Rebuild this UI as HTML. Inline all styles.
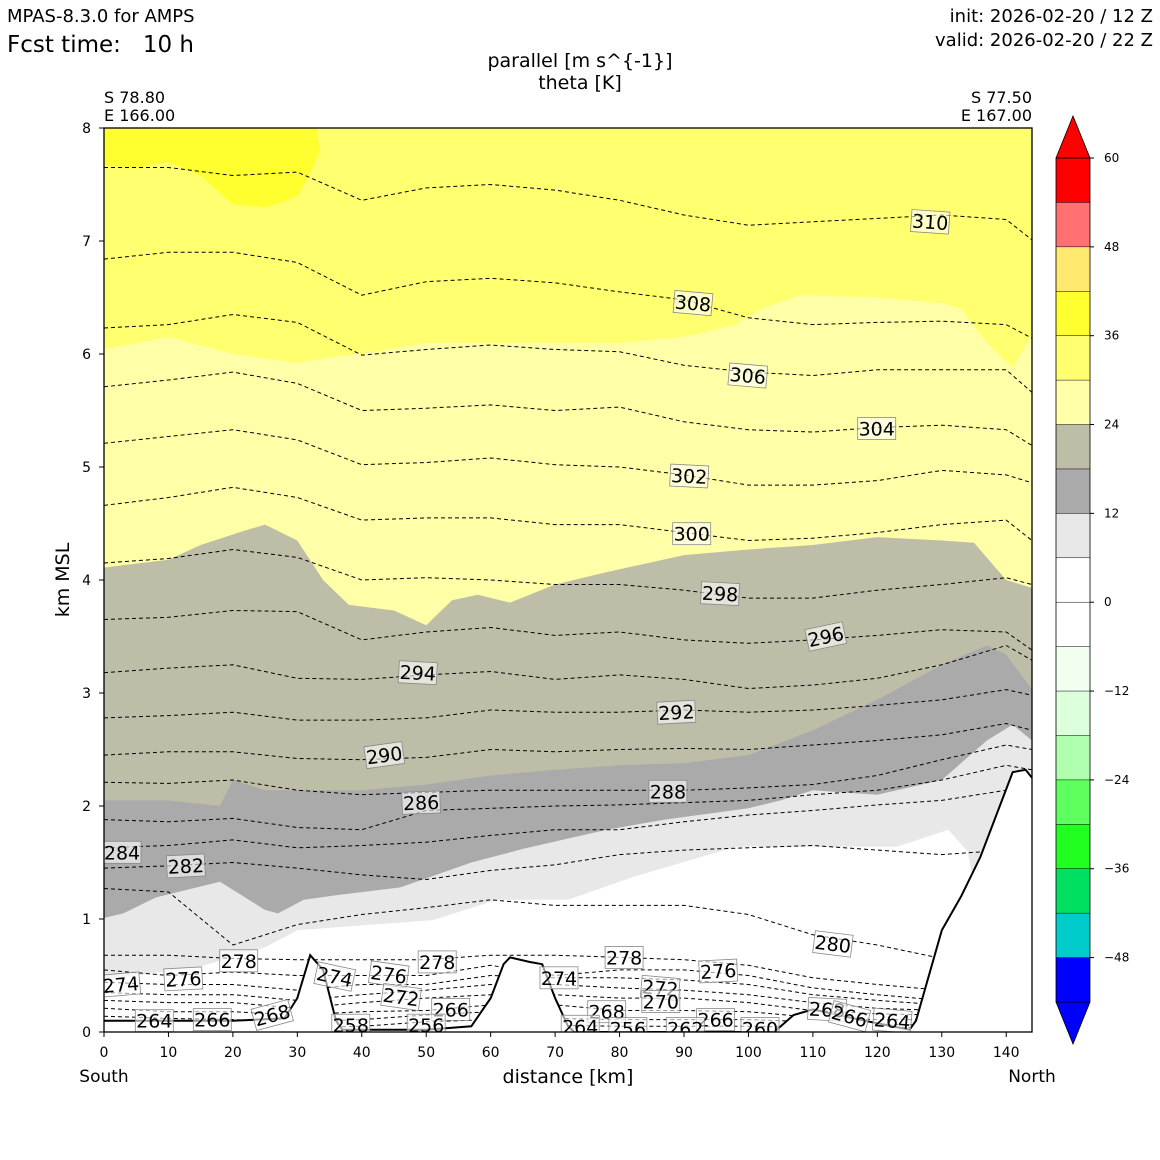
<!DOCTYPE html>
<html><head><meta charset="utf-8"><style>
html,body{margin:0;padding:0;background:#fff}
svg{display:block;font-family:"DejaVu Sans","Liberation Sans",sans-serif}
.pre{white-space:pre}
</style></head><body>
<svg id="chart" width="1160" height="1160" viewBox="0 0 1160 1160">
<g>
<text x="7" y="22" font-size="18">MPAS-8.3.0 for AMPS</text>
<text x="7" y="52" font-size="23" class="pre" xml:space="preserve">Fcst time:   10 h</text>
<text x="1153" y="22" font-size="18" text-anchor="end">init: 2026-02-20 / 12 Z</text>
<text x="1153" y="46" font-size="18" text-anchor="end">valid: 2026-02-20 / 22 Z</text>
<text x="580" y="67" font-size="19" text-anchor="middle">parallel [m s^{-1}]</text>
<text x="580" y="89" font-size="19" text-anchor="middle">theta [K]</text>
<text x="104" y="103" font-size="16">S 78.80</text>
<text x="104" y="121" font-size="16">E 166.00</text>
<text x="1032" y="103" font-size="16" text-anchor="end">S 77.50</text>
<text x="1032" y="121" font-size="16" text-anchor="end">E 167.00</text>
</g>
<defs><clipPath id="pc"><rect x="104" y="128" width="928" height="904"/></clipPath></defs>
<g id="plot" clip-path="url(#pc)"></g>
<g id="axes"></g>
<g id="cbar"></g>
</svg>
<script>
const NS="http://www.w3.org/2000/svg";
// ---- data ----
const thetaX=[0,10,20,30,40,50,60,70,80,90,100,110,120,130,140,144];
const theta310=[7.65,7.65,7.58,7.61,7.36,7.47,7.50,7.45,7.36,7.23,7.14,7.17,7.20,7.23,7.19,7.01];
const theta308=[6.84,6.90,6.90,6.81,6.52,6.64,6.67,6.63,6.55,6.48,6.32,6.26,6.28,6.29,6.26,6.14];
const theta306=[6.23,6.26,6.35,6.28,5.99,6.04,6.08,6.04,6.02,5.90,5.84,5.81,5.86,5.86,5.86,5.66];
const theta304=[5.71,5.77,5.84,5.74,5.50,5.52,5.55,5.50,5.53,5.40,5.33,5.31,5.35,5.37,5.33,5.19];
const theta302=[5.21,5.27,5.33,5.24,5.02,5.04,5.08,5.02,5.00,4.93,4.84,4.84,4.88,4.97,4.93,4.86];
const theta300=[4.66,4.73,4.82,4.73,4.53,4.55,4.55,4.49,4.49,4.42,4.35,4.37,4.42,4.49,4.53,4.35];
const theta298=[4.15,4.19,4.27,4.20,4.00,4.02,4.00,3.96,3.96,3.91,3.84,3.84,3.91,3.96,4.02,3.96];
const theta296=[3.65,3.67,3.73,3.72,3.47,3.54,3.58,3.51,3.54,3.47,3.44,3.47,3.51,3.56,3.54,3.38];
const theta294=[3.18,3.22,3.25,3.13,3.12,3.16,3.19,3.12,3.16,3.12,3.04,3.07,3.13,3.25,3.42,3.29];
const theta292=[2.78,2.80,2.83,2.76,2.76,2.78,2.85,2.83,2.83,2.85,2.83,2.85,2.89,2.94,3.03,2.98];
const theta290=[2.45,2.48,2.48,2.42,2.41,2.43,2.50,2.48,2.50,2.51,2.50,2.54,2.58,2.63,2.73,2.67];
const theta288=[2.21,2.20,2.23,2.14,2.10,2.12,2.14,2.14,2.14,2.14,2.16,2.19,2.27,2.41,2.54,2.50];
const theta286=[1.88,1.86,1.89,1.81,1.79,1.96,1.98,2.00,2.01,2.03,2.05,2.10,2.14,2.23,2.36,2.32];
const theta284=[1.63,1.65,1.70,1.63,1.65,1.68,1.74,1.79,1.79,1.86,1.92,1.96,2.01,2.05,2.14,2.10];
const theta282=[1.45,1.47,1.50,1.45,1.39,1.35,1.43,1.48,1.57,1.61,1.63,1.65,1.61,1.57,1.61,1.61];
const theta280=[1.27,1.24,0.77,0.95,1.04,1.10,1.17,1.12,1.12,1.12,1.04,0.86,0.77,0.65,0.73,0.73];
const theta278=[0.68,0.68,0.65,0.64,0.64,0.64,0.68,0.68,0.66,0.64,0.59,0.48,0.42,0.37,0.37,0.37];
const theta276=[0.55,0.50,0.53,0.50,0.50,0.50,0.59,0.50,0.55,0.55,0.50,0.39,0.33,0.28,0.28,0.28];
const theta274=[0.44,0.42,0.42,0.37,0.42,0.42,0.50,0.48,0.48,0.46,0.42,0.33,0.28,0.24,0.24,0.24];
const theta272=[0.35,0.33,0.33,0.28,0.33,0.37,0.42,0.42,0.39,0.37,0.33,0.26,0.21,0.19,0.19,0.19];
const theta270=[0.28,0.26,0.26,0.21,0.26,0.30,0.33,0.33,0.30,0.30,0.26,0.19,0.16,0.15,0.15,0.15];
const theta268=[0.21,0.18,0.18,0.15,0.18,0.19,0.24,0.24,0.19,0.19,0.18,0.13,0.11,0.11,0.11,0.11];
const theta266=[0.14,0.12,0.11,0.09,0.11,0.15,0.18,0.12,0.11,0.11,0.11,0.09,0.07,0.06,0.06,0.06];
const theta264=[0.09,0.09,0.06,0.04,0.05,0.09,0.11,0.06,0.05,0.05,0.05,0.04,0.04,0.04,0.04,0.04];
const thetaLines=[theta310,theta308,theta306,theta304,theta302,theta300,theta298,theta296,theta294,theta292,theta290,theta288,theta286,theta284,theta282,theta280,theta278,theta276,theta274,theta272,theta270,theta268,theta266,theta264];

const blobX=[0,5,10,15,20,25,28,30,32,33.5,33];
const blobH=[7.67,7.65,7.7,7.58,7.32,7.3,7.35,7.4,7.6,7.8,8];
const b1X=[0,10,20,30,35,40,50,60,70,80,90,98,102,108,120,130,133,137,141,144];
const b1H=[6.04,6.15,6.0,5.92,5.97,6.0,6.1,6.1,6.1,6.1,6.15,6.26,6.4,6.52,6.5,6.45,6.4,6.1,5.88,6.17];
const b2X=[0,10,15,22,25,30,34,38,45,50,54,58,63,70,78,90,100,110,120,130,135,140,144];
const b2H=[4.11,4.18,4.31,4.44,4.49,4.35,4.0,3.78,3.73,3.6,3.82,3.87,3.8,3.96,4.07,4.22,4.27,4.31,4.38,4.35,4.33,4.0,3.93];
const b3X=[0,10,18,20,25,33,40,50,60,70,80,90,100,110,120,130,137,140,144];
const b3H=[2.05,2.05,2.0,2.23,2.14,2.14,2.14,2.19,2.27,2.32,2.36,2.38,2.45,2.67,2.94,3.25,3.42,3.34,3.03];
const b4X=[0,3,8,18,25,27,31,36,46,57,65,78,87,100,105,110,120,130,137,141,144];
const b4H=[1.01,1.05,1.19,1.33,1.08,1.05,1.17,1.21,1.28,1.5,1.62,1.79,1.88,1.98,2.05,2.14,2.1,2.23,2.58,2.72,2.58];
const b5X=[0,15,25,30,51,61,72,82,98,123,131,134,136,144];
const b5H=[0.46,0.58,0.75,0.9,0.99,1.17,1.17,1.37,1.64,1.64,1.79,1.6,1.0,1.0];
const terrX=[0,20,28,30,32,34,36,37,50,57,60,62,63,66,68,70,72,73,104,107,110,118,125,126,130,133,136,139,141,143,144];
const terrH=[0.1,0.1,0.12,0.3,0.68,0.55,0.1,0.02,0.02,0.05,0.3,0.6,0.66,0.62,0.6,0.3,0.05,0,0,0.15,0.2,0.1,0.02,0.1,0.9,1.2,1.55,2.0,2.3,2.32,2.25];

const labelText=["310","308","306","304","302","300","298","296","294","292","290","288","286","284","282","280","278","278","278","276","276","276","274","274","274","272","272","270","268","268","268","266","266","266","266","264","264","264","258","256","256","262","260"];
const labelKm=[128.2,91.4,99.9,119.9,90.8,91.2,95.6,112.0,48.7,88.8,43.5,87.5,49.2,2.8,12.7,113.1,20.9,51.7,80.7,12.3,44.2,95.3,2.6,35.8,70.6,46.1,86.3,86.4,26.1,78.0,112.2,53.8,16.8,94.9,115.7,7.8,73.9,122.3,38.3,50.0,81.3,90.2,101.8];
const labelH=[7.17,6.45,5.81,5.34,4.92,4.41,3.88,3.5,3.18,2.83,2.45,2.13,2.03,1.59,1.47,0.78,0.63,0.62,0.66,0.47,0.51,0.54,0.42,0.49,0.48,0.31,0.39,0.27,0.15,0.18,0.2,0.2,0.11,0.11,0.14,0.1,0.05,0.1,0.06,0.06,0.03,0.03,0.03];
const labelRot=[4,5,5,0,3,0,3,-12,3,-3,-8,0,-2,0,-3,7,0,0,0,-3,8,-3,-5,12,0,8,5,0,-15,0,3,0,0,0,15,0,0,5,0,0,0,0,0];

const yTicks=[0,1,2,3,4,5,6,7,8];
const xTicks=[0,10,20,30,40,50,60,70,80,90,100,110,120,130,140];
const cbLevels=[60,54,48,42,36,30,24,18,12,6,0,-6,-12,-18,-24,-30,-36,-42,-48,-54];
const cbColors=["#ff0000","#ff7070","#ffe870","#ffff30","#ffff70","#ffffa8","#bebea8","#aaaaaa","#e8e8e8","#ffffff","#ffffff","#f0fff0","#dcffdc","#b0ffb0","#60ff60","#20ff20","#00e060","#00cccc","#0000ff"];
const cbTickVals=[60,48,36,24,12,0,-12,-24,-36,-48];

// ---- scales ----
const X=k=>104+k*928/144;
const Y=h=>1032-h*113;
const CY=v=>158+(60-v)*844/114;
function el(t,a,p){const e=document.createElementNS(NS,t);for(const k in a)e.setAttribute(k,a[k]);p.appendChild(e);return e;}
const plot=document.getElementById('plot'),axes=document.getElementById('axes'),cb=document.getElementById('cbar');

let r=el('rect',{x:104,y:128,width:928,height:904,fill:"#ffff70"},plot);


function below(xs,hs,fill,name){
  let d='M'+X(xs[0])+','+Y(0);
  xs.forEach((x,i)=>d+=' L'+X(x).toFixed(1)+','+Y(hs[i]).toFixed(1));
  d+=' L'+X(xs[xs.length-1])+','+Y(0)+'Z';
  const p=el('path',{d:d,fill:fill},plot);
  
  
}
{let d='M'+X(0)+','+Y(8);blobX.forEach((x,i)=>d+=' L'+X(x).toFixed(1)+','+Y(blobH[i]).toFixed(1));d+='Z';
const p=el('path',{d:d,fill:"#ffff30"},plot);

}
below(b1X,b1H,"#ffffa8","wind-24-30-region");
below(b2X,b2H,"#bebea8","wind-18-24-region");
below(b3X,b3H,"#aaaaaa","wind-12-18-region");
below(b4X,b4H,"#e8e8e8","wind-6-12-region");
below(b5X,b5H,"#ffffff","wind-0-6-region");
thetaLines.forEach((arr,i)=>{
  const pts=thetaX.map((x,j)=>X(x).toFixed(1)+','+Y(arr[j]).toFixed(1)).join(' ');
  const l=el('polyline',{points:pts,fill:'none',stroke:'#000','stroke-width':1,'stroke-dasharray':'4,3'},plot);
  
  
});
below(terrX,terrH,"#ffffff","terrain-mask");
{const pts=terrX.map((x,i)=>X(x).toFixed(1)+','+Y(terrH[i]).toFixed(1)).join(' ');
const t=el('polyline',{points:pts,fill:'none',stroke:'#000','stroke-width':2},plot);

}
labelText.forEach((s,i)=>{
  const cx=X(labelKm[i]),cy=Y(labelH[i]);
  const g=el('g',{transform:`translate(${cx.toFixed(1)},${cy.toFixed(1)}) rotate(${labelRot[i]})`},plot);
  
  
  el('rect',{x:-19,y:-11,width:38,height:22,fill:'rgba(255,255,255,0.6)',stroke:'#888','stroke-width':0.8},g);
  const t=el('text',{x:0,y:7,'font-size':19,'text-anchor':'middle'},g);t.textContent=s;
});
el('rect',{x:104,y:128,width:928,height:904,fill:'none',stroke:'#000','stroke-width':1.3},axes);
yTicks.forEach(v=>{
  el('line',{x1:99,x2:104,y1:Y(v),y2:Y(v),stroke:'#000'},axes);
  const t=el('text',{x:91,y:Y(v)+5,'font-size':14,'text-anchor':'end'},axes);
  
  
  t.textContent=v;
});
xTicks.forEach(v=>{
  el('line',{x1:X(v),x2:X(v),y1:1032,y2:1037,stroke:'#000'},axes);
  const t=el('text',{x:X(v),y:1057,'font-size':14,'text-anchor':'middle'},axes);
  
  
  t.textContent=v;
});
[["South",104],["North",1032]].forEach(a=>{const t=el('text',{x:a[1],y:1082,'font-size':17,'text-anchor':'middle'},axes);


t.textContent=a[0];});
{const t=el('text',{x:568,y:1083,'font-size':19,'text-anchor':'middle'},axes);


t.textContent='distance [km]';
const u=el('text',{x:0,y:0,'font-size':19,'text-anchor':'middle',transform:'translate(69,580) rotate(-90)'},axes);


u.textContent='km MSL';}
cbColors.forEach((c,i)=>{
  const y1=CY(cbLevels[i]),y2=CY(cbLevels[i+1]);
  const b=el('rect',{x:1056,y:y1,width:34,height:y2-y1+0.5,fill:c},cb);
  
  
});
cbLevels.forEach(v=>el('line',{x1:1056,x2:1090,y1:CY(v),y2:CY(v),stroke:'#000','stroke-width':0.5},cb));
{const a=el('polygon',{points:`1056,${CY(60)} 1073,116 1090,${CY(60)}`,fill:'#ff0000',stroke:'#000','stroke-width':0.8},cb);


const b=el('polygon',{points:`1056,${CY(-54)} 1073,1044 1090,${CY(-54)}`,fill:'#0000ff',stroke:'#000','stroke-width':0.8},cb);

}
el('rect',{x:1056,y:CY(60),width:34,height:CY(-54)-CY(60),fill:'none',stroke:'#000','stroke-width':0.8},cb);
cbTickVals.forEach(v=>{
  el('line',{x1:1090,x2:1094,y1:CY(v),y2:CY(v),stroke:'#000'},cb);
  const t=el('text',{x:1104,y:CY(v)+4,'font-size':12},cb);
  
  
  t.textContent=v<0?'\u2212'+(-v):String(v);
});
</script>
</body></html>
